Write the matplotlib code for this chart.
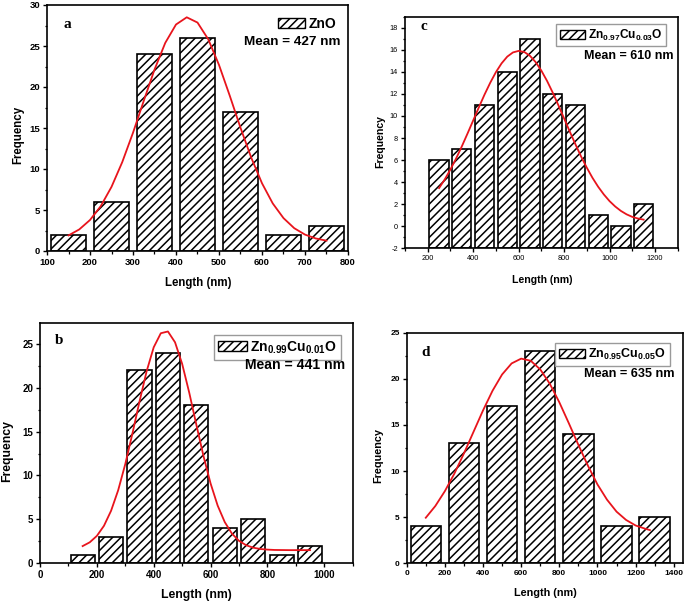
import matplotlib
matplotlib.use("Agg")
import matplotlib.pyplot as plt
from matplotlib.patches import Patch
from matplotlib.ticker import MultipleLocator
import numpy as np

plt.rcParams["font.family"] = ["Liberation Sans", "DejaVu Sans"]
plt.rcParams["axes.unicode_minus"] = False
plt.rcParams["mathtext.fontset"] = "custom"
plt.rcParams["mathtext.rm"] = "Liberation Sans:bold"
plt.rcParams["mathtext.bf"] = "Liberation Sans:bold"
plt.rcParams["mathtext.it"] = "Liberation Sans:bold"
plt.rcParams["hatch.linewidth"] = 1.1

# ---------------- data ----------------
a_centers = [150, 250, 350, 450, 550, 650, 750]
a_counts = [2, 6, 24, 26, 17, 2, 3]
a_fit_x = [150, 175, 200, 225, 250, 275, 300, 325, 350, 375, 400, 425, 450, 475,
           500, 525, 550, 575, 600, 625, 650, 675, 700, 725, 750]
a_fit_y = [1.90, 2.63, 3.78, 5.47, 7.82, 10.84, 14.42, 18.31, 22.12, 25.38, 27.62,
           28.50, 27.86, 25.82, 22.69, 18.94, 15.03, 11.38, 8.26, 5.80, 4.01, 2.78,
           2.00, 1.53, 1.26]

b_centers = [150, 250, 350, 450, 550, 650, 750, 850, 950]
b_counts = [1, 3, 22, 24, 18, 4, 5, 1, 2]
b_fit_x = [150, 175, 200, 225, 250, 275, 300, 325, 350, 375, 400, 425, 450, 475,
           500, 525, 550, 575, 600, 625, 650, 675, 700, 725, 750, 775, 800, 825,
           850, 875, 900, 925, 950]
b_fit_y = [1.96, 2.39, 3.12, 4.27, 5.98, 8.32, 11.30, 14.76, 18.42, 21.86, 24.60,
           26.20, 26.40, 25.17, 22.72, 19.43, 15.78, 12.23, 9.10, 6.57, 4.69, 3.39,
           2.56, 2.06, 1.78, 1.63, 1.56, 1.52, 1.51, 1.50, 1.50, 1.50, 1.50]

c_centers = [250, 350, 450, 550, 650, 750, 850, 950, 1050, 1150]
c_counts = [6, 7, 11, 14, 17, 12, 11, 1, 0, 2]
c_fit_x = [250, 275, 300, 325, 350, 375, 400, 425, 450, 475, 500, 525, 550, 575,
           600, 625, 650, 675, 700, 725, 750, 775, 800, 825, 850, 875, 900, 925,
           950, 975, 1000, 1025, 1050, 1075, 1100, 1125, 1150]
c_fit_y = [3.46, 4.25, 5.15, 6.15, 7.24, 8.40, 9.59, 10.78, 11.94, 13.01, 13.97,
           14.77, 15.38, 15.76, 15.90, 15.80, 15.45, 14.88, 14.11, 13.18, 12.12,
           10.97, 9.78, 8.59, 7.43, 6.32, 5.31, 4.39, 3.58, 2.88, 2.28, 1.79, 1.39,
           1.08, 0.85, 0.70, 0.60]

d_centers = [100, 300, 500, 700, 900, 1100, 1300]
d_counts = [4, 13, 17, 23, 14, 4, 5]
d_fit_x = [100, 150, 200, 250, 300, 350, 400, 450, 500, 550, 600, 650, 700, 750,
           800, 850, 900, 950, 1000, 1050, 1100, 1150, 1200, 1250, 1275]
d_fit_y = [4.94, 6.21, 7.82, 9.73, 11.91, 14.24, 16.57, 18.71, 20.47, 21.67, 22.19,
           21.96, 21.02, 19.47, 17.46, 15.18, 12.84, 10.58, 8.55, 6.90, 5.60, 4.70,
           4.10, 3.75, 3.60]

panel_letters = ["a", "b", "c", "d"]
legend_labels = ["ZnO", r"$\mathrm{Zn_{0.99}Cu_{0.01}O}$",
                 r"$\mathrm{Zn_{0.97}Cu_{0.03}O}$", r"$\mathrm{Zn_{0.95}Cu_{0.05}O}$"]
mean_texts = ["Mean = 427 nm", "Mean = 441 nm", "Mean = 610 nm", "Mean = 635 nm"]

W, H = 685, 602
fig = plt.figure(figsize=(W / 100, H / 100), dpi=100)


def fx(px):
    return px / W


def fy(py):
    return 1 - py / H


def make_axes(left, top, right, bottom):
    return fig.add_axes([fx(left), fy(bottom), (right - left) / W, (bottom - top) / H])


def style(ax, tick_size, tick_weight, xmaj, xmin, ymaj, ymin):
    for side in ["left", "bottom", "top", "right"]:
        ax.spines[side].set_linewidth(1.2)
    ax.xaxis.set_major_locator(MultipleLocator(xmaj))
    ax.xaxis.set_minor_locator(MultipleLocator(xmin))
    ax.yaxis.set_major_locator(MultipleLocator(ymaj))
    ax.yaxis.set_minor_locator(MultipleLocator(ymin))
    ax.tick_params(which="major", direction="out", length=3, width=1.0,
                   labelsize=tick_size, pad=2)
    ax.tick_params(which="minor", direction="out", length=1.8, width=0.9)
    for lab in ax.get_xticklabels() + ax.get_yticklabels():
        lab.set_fontweight(tick_weight)


def labels(ax, size, ylab_xy, xlab_xy):
    ax.set_ylabel("Frequency", fontsize=size, fontweight="bold")
    ax.set_xlabel("Length (nm)", fontsize=size, fontweight="bold")
    ax.yaxis.set_label_coords(*ylab_xy)
    ax.xaxis.set_label_coords(*xlab_xy)
    ax.yaxis.label.set_va("center")
    ax.xaxis.label.set_va("center")


bar_kw = dict(facecolor="white", edgecolor="black", linewidth=1.2, hatch="////")
fit_kw = dict(color="#e8141c", linewidth=1.3)
handle = Patch(facecolor="white", edgecolor="black", linewidth=1.0, hatch="////")

# ---------------- panel a ----------------
ax = make_axes(47, 5, 348, 251)
ax.bar(a_centers, a_counts, width=82, **bar_kw)
ax.plot(a_fit_x, a_fit_y, **fit_kw)
ax.set_xlim(100, 800)
ax.set_ylim(0, 30)
style(ax, 6.8, "bold", 100, 50, 5, 2.5)
labels(ax, 8.3, (-0.096, 0.47), (0.502, -0.13))
ax.legend([handle], [legend_labels[0]], loc="upper right",
          bbox_to_anchor=(fx(343), fy(10)), bbox_transform=fig.transFigure,
          frameon=False, borderpad=0, handlelength=1.9, handleheight=0.75,
          handletextpad=0.25, prop=dict(size=10, weight="bold"))
fig.text(fx(67), fy(25), panel_letters[0], family="Liberation Serif",
         fontweight="bold", fontsize=11, ha="center", va="center")
fig.text(fx(341), fy(42), mean_texts[0], fontweight="bold", fontsize=9.7,
         ha="right", va="center")

# ---------------- panel b ----------------
ax = make_axes(40, 322.7, 352.7, 563.3)
ax.bar(b_centers, b_counts, width=85, **bar_kw)
ax.plot(b_fit_x, b_fit_y, **fit_kw)
ax.set_xlim(0, 1100)
ax.set_ylim(0, 27.4)
style(ax, 7, "bold", 200, 100, 5, 2.5)
labels(ax, 8.8, (-0.1055, 0.468), (0.499, -0.132))
ax.legend([handle], [legend_labels[1]], loc="upper right",
          bbox_to_anchor=(fx(348), fy(328)), bbox_transform=fig.transFigure,
          frameon=True, fancybox=False, edgecolor="#9a9a9a", framealpha=1,
          borderpad=0.3, handlelength=2.1, handleheight=0.75,
          handletextpad=0.25, prop=dict(size=10, weight="bold"))
fig.text(fx(59), fy(341), panel_letters[1], family="Liberation Serif",
         fontweight="bold", fontsize=11, ha="center", va="center")
fig.text(fx(345), fy(365), mean_texts[1], fontweight="bold", fontsize=10.1,
         ha="right", va="center")

# ---------------- panel c ----------------
c_base = -2
ax = make_axes(405, 16.7, 677.7, 248.3)
ax.bar(c_centers, np.array(c_counts) - c_base, bottom=c_base, width=85, **bar_kw)
ax.plot(c_fit_x, c_fit_y, **fit_kw)
ax.set_xlim(100, 1300)
ax.set_ylim(-2, 19)
style(ax, 5.3, "normal", 200, 100, 2, 1)
labels(ax, 7.6, (-0.092, 0.46), (0.502, -0.137))
ax.legend([handle], [legend_labels[2]], loc="upper right",
          bbox_to_anchor=(fx(672), fy(18)), bbox_transform=fig.transFigure,
          frameon=True, fancybox=False, edgecolor="#9a9a9a", framealpha=1,
          borderpad=0.3, handlelength=2.1, handleheight=0.75,
          handletextpad=0.25, prop=dict(size=8.6, weight="bold"))
fig.text(fx(424), fy(27), panel_letters[2], family="Liberation Serif",
         fontweight="bold", fontsize=11, ha="center", va="center")
fig.text(fx(673), fy(56), mean_texts[2], fontweight="bold", fontsize=9,
         ha="right", va="center")

# ---------------- panel d ----------------
ax = make_axes(406.7, 332.7, 683.3, 563.3)
ax.bar(d_centers, d_counts, width=160, **bar_kw)
ax.plot(d_fit_x, d_fit_y, **fit_kw)
ax.set_xlim(0, 1450)
ax.set_ylim(0, 25)
style(ax, 6, "bold", 200, 100, 5, 2.5)
labels(ax, 7.8, (-0.104, 0.466), (0.5, -0.129))
ax.legend([handle], [legend_labels[3]], loc="upper right",
          bbox_to_anchor=(fx(676), fy(337)), bbox_transform=fig.transFigure,
          frameon=True, fancybox=False, edgecolor="#9a9a9a", framealpha=1,
          borderpad=0.3, handlelength=2.1, handleheight=0.75,
          handletextpad=0.25, prop=dict(size=9, weight="bold"))
fig.text(fx(426), fy(352), panel_letters[3], family="Liberation Serif",
         fontweight="bold", fontsize=11, ha="center", va="center")
fig.text(fx(675), fy(374), mean_texts[3], fontweight="bold", fontsize=9.1,
         ha="right", va="center")

fig.savefig("out.png", dpi=100)
